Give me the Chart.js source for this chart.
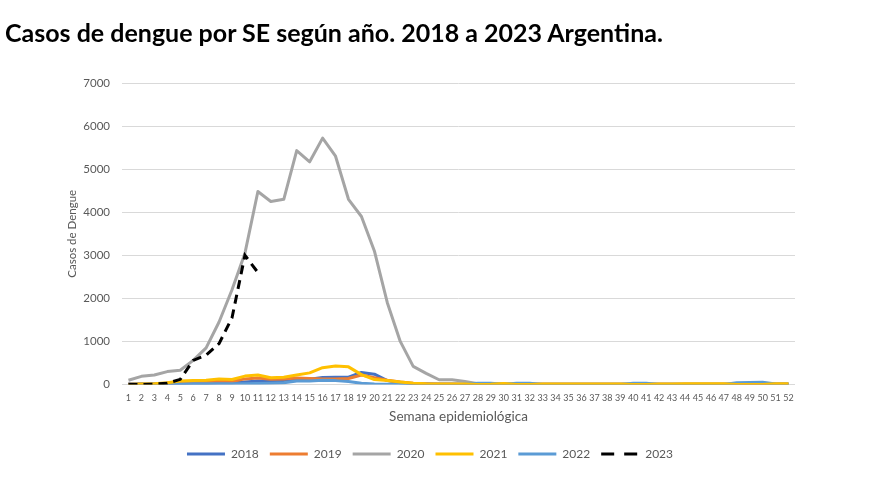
<!DOCTYPE html>
<html>
<head>
<meta charset="utf-8">
<script src="https://cdn.jsdelivr.net/npm/chart.js@4.4.1/dist/chart.umd.min.js"></script>
<style>
  html, body { margin: 0; padding: 0; background: #fff; }
  #wrap { position: relative; width: 873px; height: 487px; }
  #titulo {
    position: absolute; left: 5px; top: 17px; margin: 0;
    font-family: Lato, sans-serif; font-weight: bold; font-size: 25px; line-height: 1.2; color: #000;
    white-space: nowrap;
  }
</style>
</head>
<body>
<div id="wrap">
  <h1 id="titulo">Casos de dengue por SE según año. 2018 a 2023 Argentina.</h1>
  <canvas id="chart"></canvas>
</div>
<script>
// semanas epidemiologicas
const semanas = ["1","2","3","4","5","6","7","8","9","10","11","12","13","14","15","16","17","18","19","20",
  "21","22","23","24","25","26","27","28","29","30","31","32","33","34","35","36","37","38","39","40",
  "41","42","43","44","45","46","47","48","49","50","51","52"];

const casos2018 = [10,10,10,15,20,30,30,40,40,60,80,80,90,120,120,160,170,170,280,240,
  90,40,20,10,5,5,5,5,5,5,5,5,5,5,5,5,5,5,5,5,5,5,5,5,5,5,5,10,10,10,10,10];
const casos2019 = [20,20,20,30,50,70,60,80,70,130,150,120,130,150,140,130,130,140,220,160,
  100,60,30,20,10,10,5,5,5,5,5,5,5,5,5,5,5,5,5,5,5,5,5,5,5,5,5,5,5,5,5,5];
const casos2020 = [100,190,220,300,330,560,850,1450,2200,3050,4480,4250,4300,5430,5170,5720,5300,4300,3900,3100,
  1900,1000,420,260,110,110,70,20,10,10,5,5,5,5,5,5,5,5,5,5,5,5,5,5,5,5,5,5,5,5,5,5];
const casos2021 = [0,10,20,40,80,95,100,130,115,195,220,155,170,220,270,390,430,410,230,115,
  95,60,30,15,10,10,10,0,5,25,0,0,10,10,10,10,10,10,10,0,0,10,10,15,15,15,15,0,0,0,20,20];
const casos2022 = [10,10,10,10,10,15,15,20,20,20,25,30,40,80,80,100,90,70,30,10,
  5,5,5,5,5,5,5,30,30,5,30,30,0,0,0,0,0,0,0,30,30,0,0,0,0,0,0,40,45,50,10,5];
const casos2023 = [0,0,10,30,120,560,680,950,1550,3000,2600];

const ticksY = [0,1000,2000,3000,4000,5000,6000,7000];

const gris = '#595959';
const fuente = 'Lato, "Open Sans", sans-serif';

function serie(label, data, color, orden, extra) {
  return Object.assign({
    label: label, data: data, borderColor: color, backgroundColor: color,
    borderWidth: 3, pointRadius: 0, tension: 0, fill: false, order: orden,
    borderJoinStyle: 'round'
  }, extra || {});
}

new Chart(document.getElementById('chart'), {
  type: 'line',
  data: {
    labels: semanas,
    datasets: [
      serie('2018', casos2018, '#4472C4', 6),
      serie('2019', casos2019, '#ED7D31', 5),
      serie('2020', casos2020, '#A5A5A5', 4),
      serie('2021', casos2021, '#FFC000', 2),
      serie('2022', casos2022, '#5B9BD5', 3),
      serie('2023', casos2023, '#000000', 1, { borderDash: [9, 6], borderCapStyle: 'butt', borderJoinStyle: 'miter' })
    ]
  },
  options: {
    responsive: true,
    maintainAspectRatio: false,
    animation: false,
    layout: { padding: { left: 65, right: 78, top: 83, bottom: 17 } },
    plugins: {
      title: { display: false },
      tooltip: { enabled: false },
      legend: {
        position: 'bottom',
        labels: {
          usePointStyle: true,
          pointStyle: 'line',
          pointStyleWidth: 38,
          padding: 11,
          color: gris,
          font: { family: fuente, size: 12 },
          sort: (a, b) => a.datasetIndex - b.datasetIndex,
          generateLabels: (chart) => {
            const items = Chart.defaults.plugins.legend.labels.generateLabels(chart);
            items.forEach(it => {
              const ds = chart.data.datasets[it.datasetIndex];
              it.lineWidth = 3;
              it.lineDash = ds.borderDash ? [13, 10] : [];
            });
            return items;
          }
        }
      }
    },
    scales: {
      x: {
        offset: true,
        grid: { display: false, drawTicks: false },
        border: { display: false },
        ticks: { autoSkip: false, maxRotation: 0, color: gris, font: { family: fuente, size: 9, lineHeight: 1 }, padding: 9 },
        title: { display: true, text: 'Semana epidemiológica', color: gris, font: { family: fuente, size: 13.5, lineHeight: 1 }, padding: { top: -2, bottom: 14 } }
      },
      y: {
        min: 0, max: 7000,
        afterBuildTicks: (axis) => { axis.ticks = ticksY.map(v => ({ value: v })); },
        afterFit: (axis) => { axis.width = 57; },
        grid: { color: '#D9D9D9', lineWidth: 1, drawTicks: false },
        border: { display: false },
        ticks: { color: gris, font: { family: fuente, size: 11.5 }, padding: 12, callback: (v) => String(v) },
        title: { display: true, text: 'Casos de Dengue', color: gris, font: { family: fuente, size: 11.5 }, padding: { top: 0, bottom: 4 } }
      }
    }
  }
});
</script>
</body>
</html>
